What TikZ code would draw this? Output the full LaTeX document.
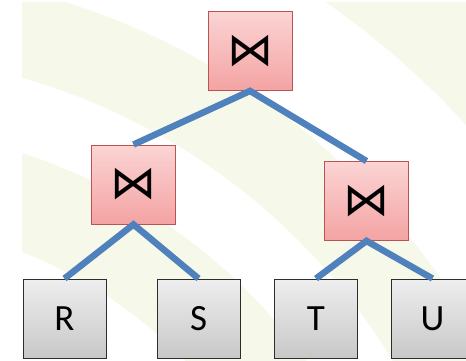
\documentclass[tikz,border=0pt]{standalone}
\usepackage{fontspec}
\setmainfont{Carlito}
\newfontfamily\symfont{DejaVu Sans}
\definecolor{bgg}{RGB}{246,248,234}
\definecolor{edgeblue}{RGB}{79,129,189}
\definecolor{pinktop}{RGB}{251,212,212}
\definecolor{pinkbot}{RGB}{244,163,163}
\definecolor{pinkborder}{RGB}{185,84,80}
\definecolor{graytop}{RGB}{238,238,238}
\definecolor{graybot}{RGB}{200,200,200}
\definecolor{grayborder}{RGB}{45,45,45}
\tikzset{
  joinbox/.style={draw=pinkborder, line width=0.9pt, top color=pinktop, bottom color=pinkbot,
    minimum width=84pt, minimum height=79pt, inner sep=0pt,
    font=\symfont\fontsize{46}{46}\selectfont},
  leafbox/.style={draw=grayborder, line width=0.9pt, top color=graytop, bottom color=graybot,
    minimum width=83pt, minimum height=79pt, inner sep=0pt,
    font=\fontsize{37}{37}\selectfont},
  connector/.style={draw=edgeblue, line width=6.5pt, line join=miter},
}
\begin{document}
\begin{tikzpicture}[x=1pt,y=-1pt]
\useasboundingbox (0,0) rectangle (466,361);
\fill[white] (0,0) rectangle (466,361);
\begin{scope}
  \clip (22,3) rectangle (466,361);
  \fill[bgg, even odd rule] (-151,689) circle[radius=563pt] circle[radius=470pt];
  \fill[bgg, even odd rule] (-151,689) circle[radius=720pt] circle[radius=635pt];
  \fill[bgg, even odd rule] (-151,689) circle[radius=1400pt] circle[radius=836pt];
\end{scope}
% nodes
\node[joinbox] (top) at (250,51) {⋈};
\node[joinbox] (lj) at (133.5,184.5) {⋈};
\node[joinbox] (rj) at (366.5,201) {⋈};
\node[leafbox] (r) at (64.5,318.5) {R};
\node[leafbox] (s) at (198.5,318.5) {S};
\node[leafbox] (t) at (316,318.5) {T};
\node[leafbox] (u) at (432.5,318.5) {U};
% connectors
\draw[connector] (lj.north) -- (top.south) -- (rj.north);
\draw[connector] (r.north) -- (lj.south) -- (s.north);
\draw[connector] (t.north) -- (rj.south) -- (u.north);
\end{tikzpicture}
\end{document}
